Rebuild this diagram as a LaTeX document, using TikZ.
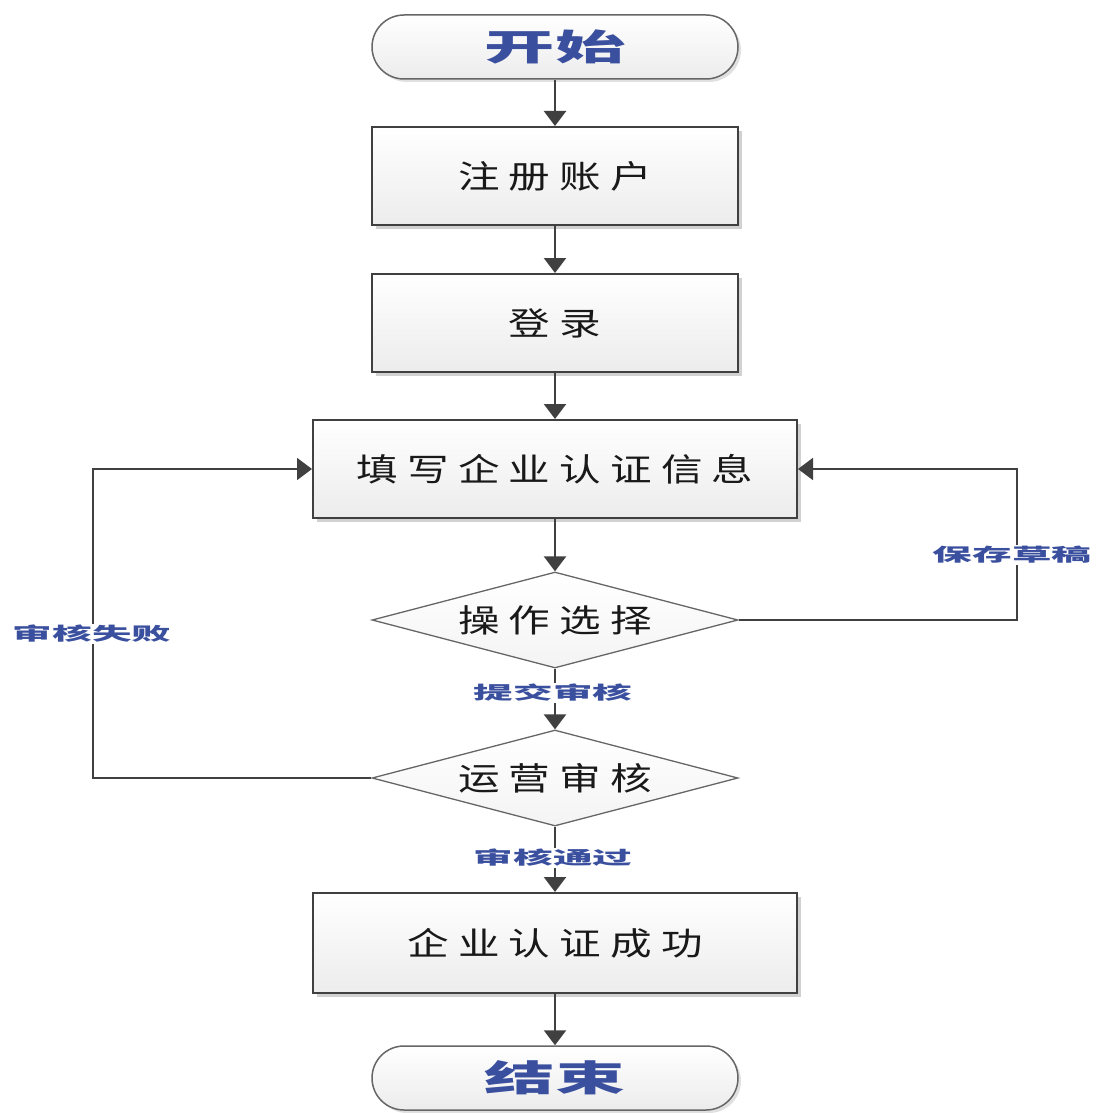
\documentclass[tikz,border=0pt]{standalone}
\usepackage{fontspec}
\setmainfont{Noto Sans CJK SC}
\newfontfamily\boxfont[LetterSpace=22]{Noto Sans CJK SC}
\newfontfamily\lblfont{Noto Sans CJK SC}
\usetikzlibrary{arrows.meta,shapes.geometric,shapes.misc,shadows,positioning}
\definecolor{lineC}{HTML}{404040}
\definecolor{blueT}{HTML}{3A4F9E}
\definecolor{fillA}{HTML}{FFFFFF}
\definecolor{fillB}{HTML}{ECECEC}
\newcommand{\bx}[1]{\scalebox{1.3}[1]{\fontsize{32}{34}\boxfont #1}}
\newcommand{\termtxt}[1]{\scalebox{1.95}[1]{\fontsize{36}{40}\selectfont\bfseries #1}}
\newcommand{\lb}[1]{\scalebox{2.2}[1]{\fontsize{18}{20}\lblfont\bfseries #1}}
\tikzset{
  procbox/.style={draw=lineC, line width=2pt, top color=fillA, bottom color=fillB,
    drop shadow={shadow xshift=4pt, shadow yshift=-4pt, fill=black!30, opacity=0.6},
    minimum height=98pt, inner sep=0pt, text=black!90},
  termbox/.style={draw=black!60, line width=1.5pt, rounded rectangle, top color=fillA, bottom color=fillB,
    drop shadow={shadow xshift=3pt, shadow yshift=-3pt, fill=black!20, opacity=0.6},
    minimum width=366pt, minimum height=64pt, inner sep=0pt, text=blueT},
  decbox/.style={draw=black!60, line width=1.3pt, diamond, aspect=3.8, top color=fillA, bottom color=fillB!60,
    minimum width=366pt, minimum height=96pt, inner sep=0pt, text=black!90},
  conn/.style={draw=lineC, line width=2.5pt, -{Triangle[width=22pt,length=15pt]}},
  lbl/.style={fill=white, inner sep=1pt, text=blueT},
}
\begin{document}
\begin{tikzpicture}[x=1pt,y=-1pt]
\useasboundingbox (0,0) rectangle (1096,1113);
\node[termbox] (start) at (555,47) {\termtxt{开始}};
\node[procbox, minimum width=366pt] (reg) at (555,176) {\bx{注册账户}};
\node[procbox, minimum width=366pt] (login) at (555,323) {\bx{登录}};
\node[procbox, minimum width=484pt] (fill) at (555,469) {\bx{填写企业认证信息}};
\node[decbox] (op) at (555,620) {\bx{操作选择}};
\node[decbox] (audit) at (555,778) {\bx{运营审核}};
\node[procbox, minimum width=484pt, minimum height=100pt] (ok) at (555,943) {\bx{企业认证成功}};
\node[termbox] (end) at (555,1078) {\termtxt{结束}};
\coordinate (rc1) at (1017,620);
\coordinate (rc2) at (1017,469);
\coordinate (lc1) at (93,778);
\coordinate (lc2) at (93,469);
\draw[conn] (start) -- (reg);
\draw[conn] (reg) -- (login);
\draw[conn] (login) -- (fill);
\draw[conn] (fill) -- (op);
\draw[conn] (op) -- (audit);
\draw[conn] (audit) -- (ok);
\draw[conn] (ok) -- (end);
\draw[conn, line width=2pt] (op.east) -- (rc1) -- (rc2) -- (fill.east);
\draw[conn, line width=2pt] (audit.west) -- (lc1) -- (lc2) -- (fill.west);
\node[lbl] (l1) at (1012,555) {\lb{保存草稿}};
\node[lbl] (l2) at (92,634) {\lb{审核失败}};
\node[lbl] (l3) at (553,693) {\lb{提交审核}};
\node[lbl] (l4) at (553,858) {\lb{审核通过}};
\end{tikzpicture}
\end{document}
